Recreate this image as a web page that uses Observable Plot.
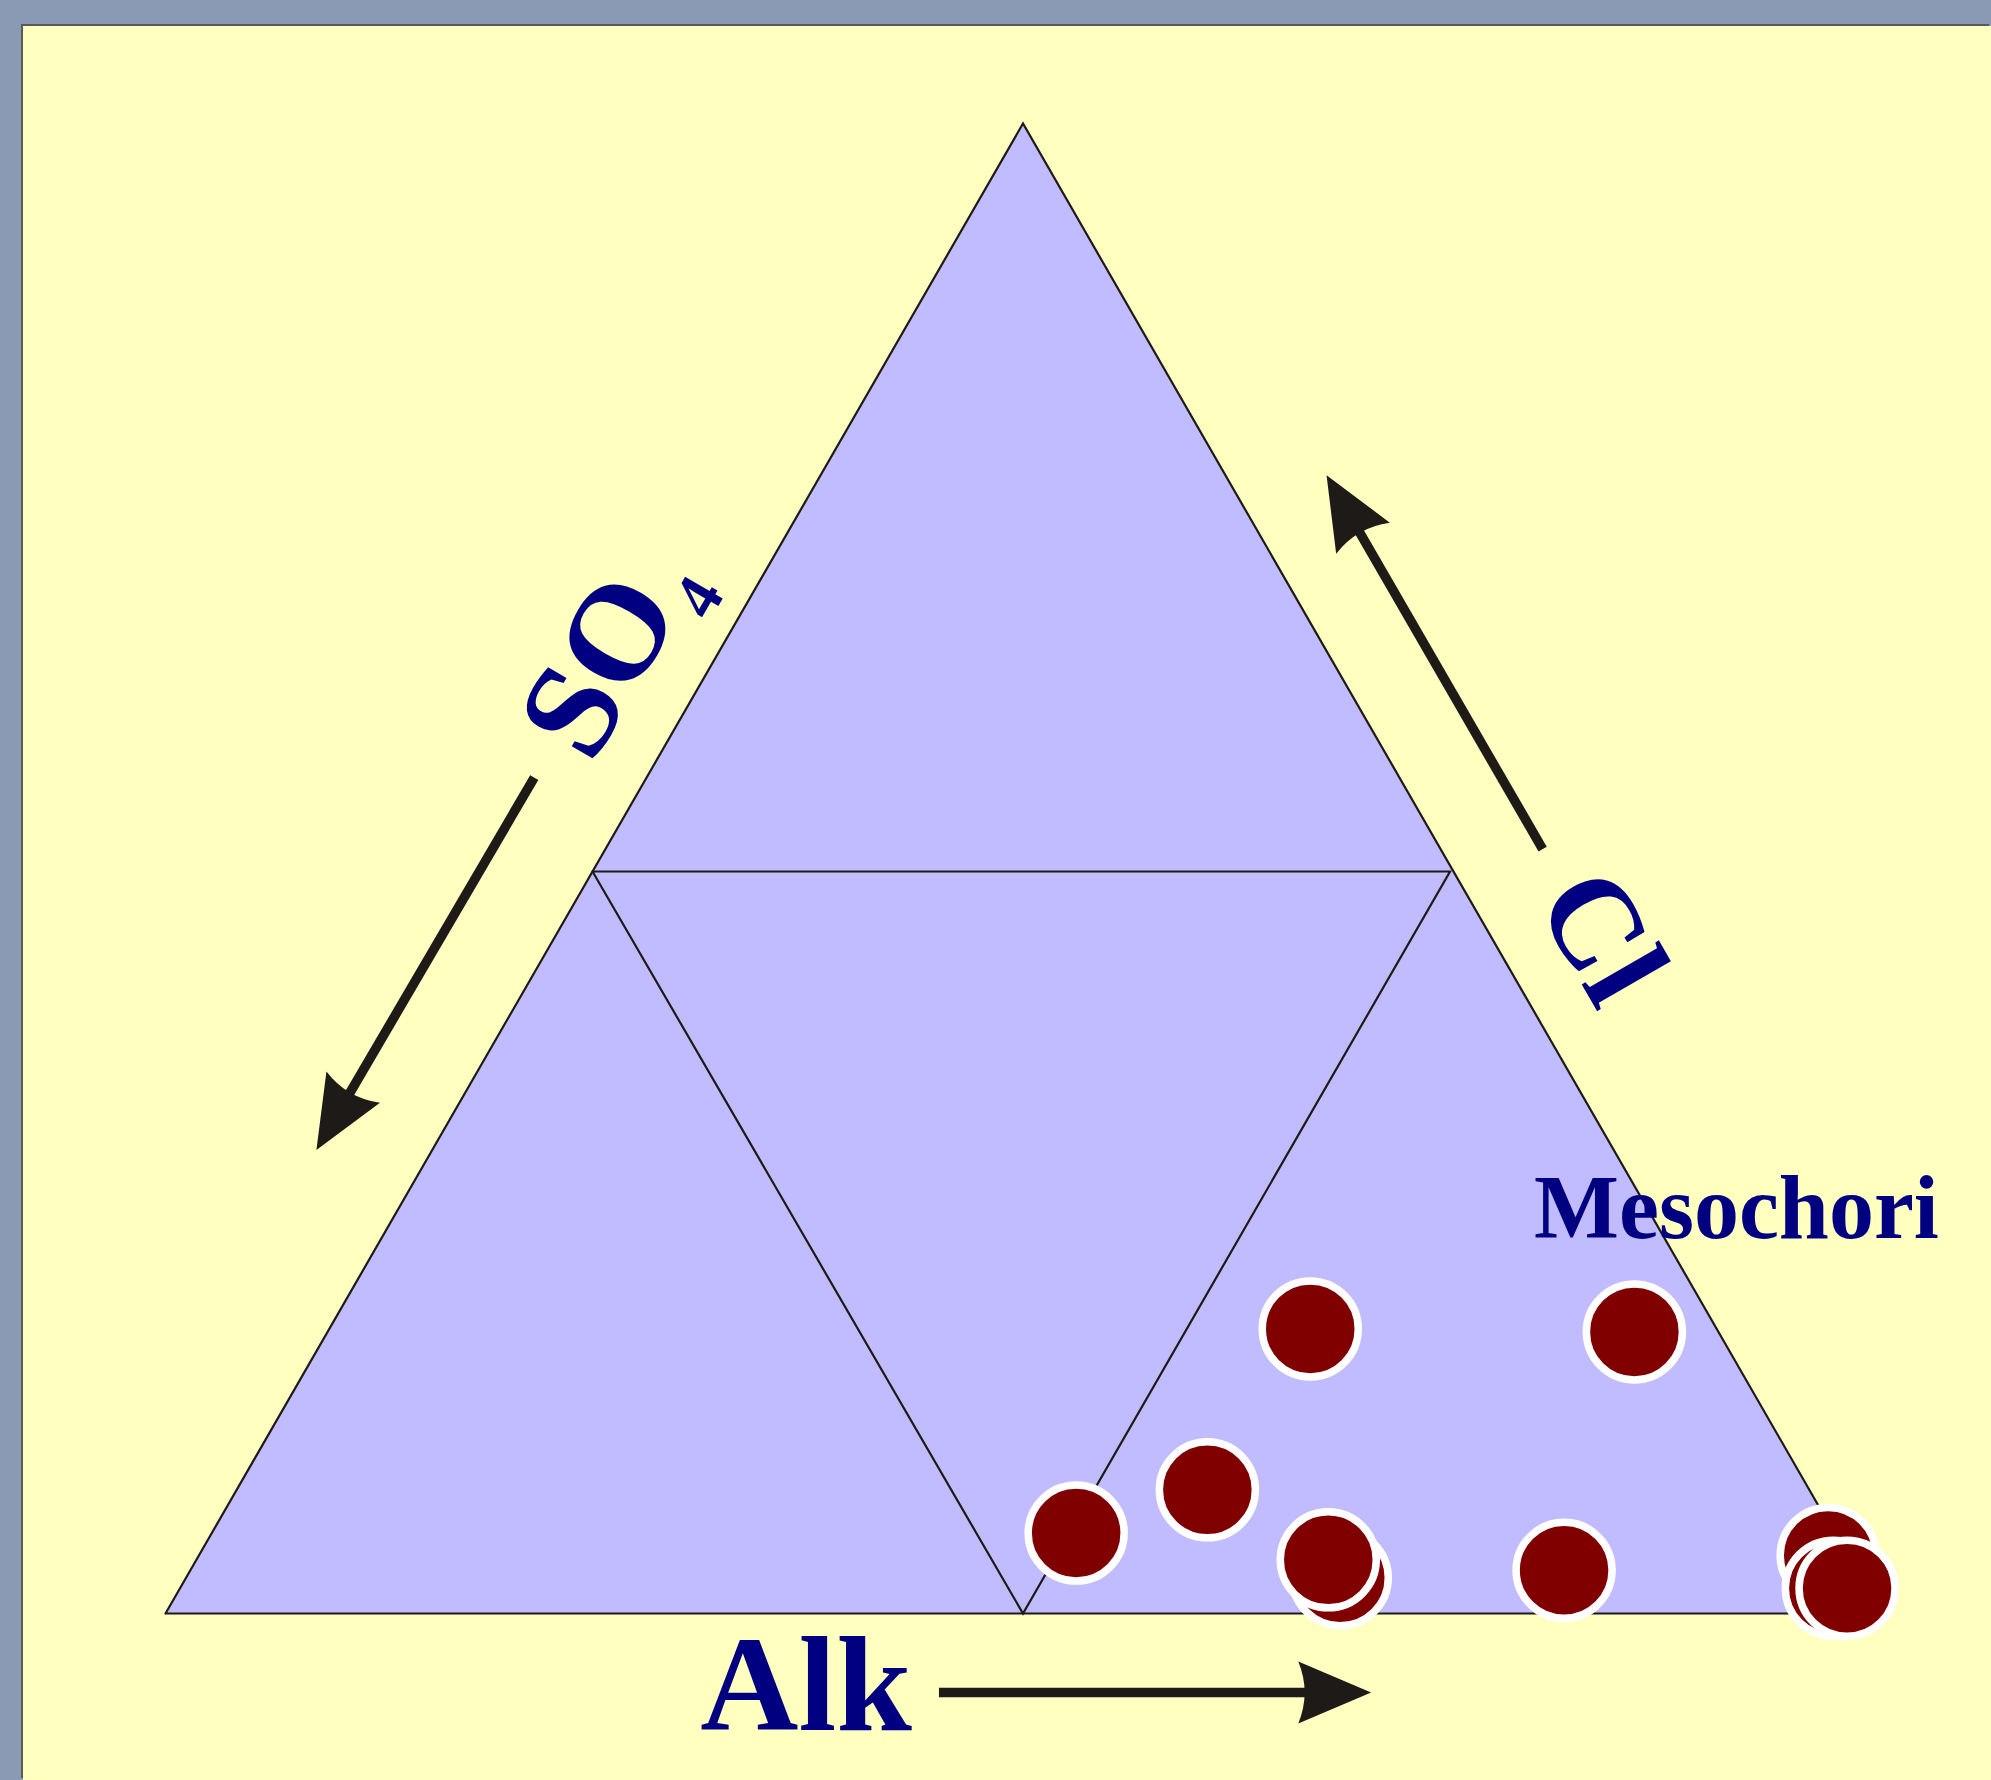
<!DOCTYPE html>
<html>
<head>
<meta charset="utf-8">
<script src="https://cdn.jsdelivr.net/npm/d3@7"></script>
<script src="https://cdn.jsdelivr.net/npm/@observablehq/plot@0.6"></script>
<style>
  html, body { margin: 0; padding: 0; background: #8B9AB4; width: 1991px; height: 1780px; overflow: hidden; }
  #chart { position: absolute; left: 23px; top: 26px; box-shadow: -2px -2px 0 #5a5a5a; }
  #chart svg { display: block; }
</style>
</head>
<body>
<div id="chart"></div>
<script>
// ---- Data: ternary compositions (%) of samples at Mesochori ----
const siteName = "Mesochori";
const sampleAlk = [50.4, 56.6, 57.2, 76.2, 67.3, 66.0, 80.1, 95.0, 96.4, 97.2];
const sampleCl  = [5.4, 8.3, 19.1, 18.9, 2.4, 3.6, 2.9, 3.9, 1.7, 1.7];
const sampleSO4 = [44.2, 35.1, 23.7, 4.9, 30.3, 30.4, 17.0, 1.1, 1.9, 1.1];

// Triangle vertices (ternary: Alk, Cl) — outer triangle and inner (mid-point) triangle
const outerAlk = [0, 100, 0, 0];
const outerCl  = [0, 0, 100, 0];
const innerAlk = [0, 50, 50, 0];
const innerCl  = [49.8, 49.8, 0, 49.8];

// Axis labels and their anchors (plot data units: x = Alk + Cl/2, y = Cl)
const labelText = ["Alk", "SO", "4", "Cl", siteName];
const labelX    = [37.35, 25.3, 31.1, 83.75, 91.6];
const labelY    = [-4.9, 63.6, 68.2, 45.4, 27.15];
const labelSize = [136, 136, 66, 128, 90];
const labelRot  = [0, -60, -60, 60, 0];

// Direction arrows (start -> tip) in plot data units
const arrowX1 = [45.1, 21.5, 80.3];
const arrowY1 = [-5.3, 56.1, 51.3];
const arrowX2 = [70.3, 8.8, 67.7];
const arrowY2 = [-5.3, 31.1, 76.4];

// ---- Layout ----
const W = 1968, H = 1754, mL = 142, mR = 111, mT = 97, mB = 167;
const kx = (W - mL - mR) / 100, ky = (H - mT - mB) / 100;
const tern = (alk, cl) => ({x: alk + cl / 2, y: cl});

const samples = sampleAlk.map((a, i) => ({...tern(a, sampleCl[i]), alk: a, cl: sampleCl[i], so4: sampleSO4[i]}));
const outer = outerAlk.map((a, i) => tern(a, outerCl[i]));
const inner = innerAlk.map((a, i) => tern(a, innerCl[i]));
const labels = labelText.map((t, i) => ({text: t, x: labelX[i], y: labelY[i], size: labelSize[i], rot: labelRot[i]}));

const arrows = arrowX1.map((x1, i) => {
  const y1 = arrowY1[i], x2 = arrowX2[i], y2 = arrowY2[i];
  const dxp = (x2 - x1) * kx, dyp = -(y2 - y1) * ky;
  const len = Math.hypot(dxp, dyp);
  const ux = dxp / len, uy = dyp / len;
  const back = 45;
  return {
    x1, y1, x2, y2,
    sx: x2 - back * ux / kx,
    sy: y2 + back * uy / ky,
    angle: Math.atan2(dyp, dxp) * 180 / Math.PI + 90
  };
});

const arrowHead = {
  draw(ctx, size) {
    const s = Math.sqrt(size / Math.PI);
    ctx.moveTo(0, 0);
    ctx.lineTo(-s, 2.35 * s);
    ctx.quadraticCurveTo(0, 1.94 * s, s, 2.35 * s);
    ctx.closePath();
  }
};

const ink = "#1E1A18";
const navy = "#000080";
const font = "'Liberation Serif', 'Times New Roman', serif";

const textMarks = labels.map(l => Plot.text([l], {
  x: "x", y: "y", text: "text",
  fontSize: l.size, fontWeight: "bold", fontFamily: font,
  fill: navy, rotate: l.rot, textAnchor: "middle", lineAnchor: "middle"
}));

const plot = Plot.plot({
  width: W, height: H,
  marginLeft: mL, marginRight: mR, marginTop: mT, marginBottom: mB,
  x: {domain: [0, 100], axis: null},
  y: {domain: [0, 100], axis: null},
  style: {background: "#FFFFC0", overflow: "visible"},
  marks: [
    Plot.line(outer, {x: "x", y: "y", fill: "#C0BCFF", stroke: ink, strokeWidth: 2.2, strokeLinejoin: "miter", strokeMiterlimit: 10}),
    Plot.line(inner, {x: "x", y: "y", fill: "none", stroke: ink, strokeWidth: 2.2, strokeLinejoin: "miter", strokeMiterlimit: 10}),
    Plot.link(arrows, {x1: "x1", y1: "y1", x2: "sx", y2: "sy", stroke: ink, strokeWidth: 9.5, strokeLinecap: "butt"}),
    Plot.dot(arrows, {x: "x2", y: "y2", r: 31, symbol: arrowHead, rotate: "angle", fill: ink, stroke: "none"}),
    ...textMarks,
    Plot.dot(samples, {x: "x", y: "y", r: 48, fill: "#800000", stroke: "white", strokeWidth: 7.5})
  ]
});

document.getElementById("chart").appendChild(plot);
</script>
</body>
</html>
